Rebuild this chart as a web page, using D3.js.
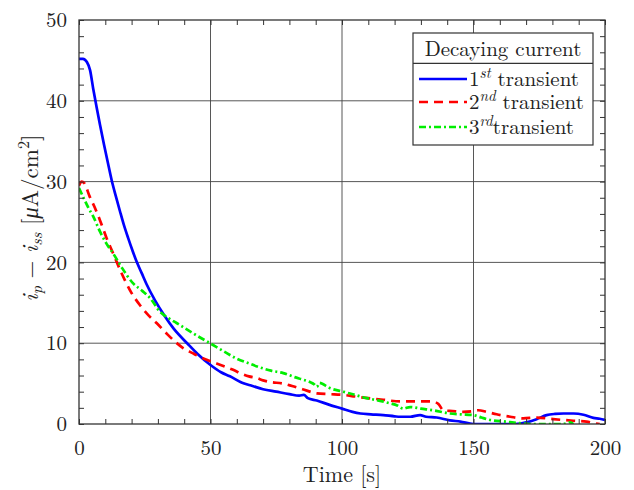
<!DOCTYPE html>
<html><head><meta charset="utf-8">
<script src="https://cdn.jsdelivr.net/npm/d3@7"></script>
<style>body{margin:0;background:#fff}svg{display:block}</style>
</head><body><svg id="c" width="634" height="490"></svg>
<script>
const FONT="'Latin Modern Roman','Liberation Serif',serif";
const xTicks=[0,50,100,150,200];
const yTicks=[0,10,20,30,40,50];
const legendTitle="Decaying current";
const seriesNames=[["1","st"," transient"],["2","nd"," transient"],["3","rd","transient"]];
const seriesColors=["#0000ff","#ff0000","#00ee00"];
const t1=[0,1.5,3,4.2,5.4,6.7,8,9.5,11,12.4,14,15.6,17,18.7,20.3,21.9,23.8,25.7,28.9,32.7,36,41.4,45,50,54,57.4,62,66,70,75,80,83.7,85.5,87,90.4,95,100,104,107,111,115.7,120,122,126,129.7,132,136,141,145,150,155,160,166,170,174,177.8,181,184.2,188,191.8,195.6,198,200];
const v1=[45.2,45.2,44.8,43.8,41.5,39.2,37,34.6,32.3,30.2,28.2,26.3,24.7,23.0,21.5,20.1,18.7,17.3,15.3,13.3,11.8,9.9,8.7,7.3,6.4,5.9,5.1,4.7,4.3,4.0,3.7,3.5,3.6,3.2,2.9,2.4,1.9,1.5,1.3,1.2,1.1,0.95,0.9,0.9,1.1,0.9,0.8,0.45,0.3,0,0,0,0,0.2,0.6,1.1,1.25,1.3,1.3,1.15,0.75,0.65,0.5];
const t2=[0,1,2,4,6,8,10.5,13,16,20,23.2,26,29.5,33.3,36.5,39.6,43,46,49,52.3,55.5,58.6,62,64.6,67.5,70,72.6,77.7,81,85,90.4,95,100.5,105,110,115.7,122,129.7,134,136.6,138.5,142,146,150,151.8,155,158.8,164,168.9,174,180.3,184,188,193,196.8,198];
const v2=[29.5,30,29.8,28.2,26.8,25.2,23,21.1,18.8,16.2,14.7,13.6,12.5,11.2,10.2,9.4,8.8,8.3,7.9,7.5,7.1,6.7,6.2,5.9,5.7,5.4,5.2,5.0,4.7,4.3,3.8,3.7,3.6,3.4,3.2,3.0,2.8,2.8,2.8,2.5,1.7,1.6,1.5,1.6,1.7,1.5,1.2,0.9,0.7,0.8,0.6,0.5,0.4,0.3,0.05,0];
const t3=[0,2,3.5,5.4,8,10.5,13,16,20.6,24,27,30.8,34,37.1,41,45,49.8,55,59.9,64.6,68.8,73,77.7,82,85,87.8,89.5,90.4,91.5,92.3,95,100.5,105,109.4,114,118.3,121,123.3,125.9,130,134.7,141,145,150,153,156.3,162,167.7,171.5,176,180,184,186.7,188];
const v3=[29.2,27.8,26.8,25.7,23.8,22.3,21.1,19.5,17.4,16.5,15.6,13.9,13.1,12.5,11.7,10.9,10.0,9.0,8.1,7.5,7.0,6.6,6.3,5.8,5.5,5.2,4.9,4.6,5.1,5.0,4.5,4.0,3.6,3.2,2.9,2.55,2.3,1.9,2.1,1.9,1.7,1.3,1.2,1.1,0.8,0.5,0.3,0.1,0,0,0,0,0.2,0];
const series=[[t1,v1],[t2,v2],[t3,v3]];
const dashes=[null,"9,6","7,3,2,3"];

const svg=d3.select("#c");
const L=79,R=605,T=20,B=424;
const x=d3.scaleLinear().domain([0,200]).range([L,R]);
const y=d3.scaleLinear().domain([0,50]).range([B,T]);

const g=svg.append("g");
g.selectAll(".gx").data(xTicks.slice(1,-1)).join("line").attr("x1",d=>x(d)).attr("x2",d=>x(d)).attr("y1",T).attr("y2",B).attr("stroke","#444").attr("stroke-width",0.9);
g.selectAll(".gy").data(yTicks.slice(1,-1)).join("line").attr("y1",d=>y(d)).attr("y2",d=>y(d)).attr("x1",L).attr("x2",R).attr("stroke","#444").attr("stroke-width",0.9);

svg.append("clipPath").attr("id","cp").append("rect").attr("x",L).attr("y",T-2).attr("width",R-L).attr("height",B-T+2);
const line=d3.line().x(d=>x(d[0])).y(d=>y(d[1])).curve(d3.curveMonotoneX);
series.forEach((s,i)=>{
  const pts=s[0].map((t,j)=>[t,s[1][j]]);
  svg.append("path").attr("clip-path","url(#cp)").attr("d",line(pts)).attr("fill","none")
    .attr("stroke",seriesColors[i]).attr("stroke-width",2.7).attr("stroke-dasharray",dashes[i]).attr("stroke-linejoin","round");
});

const mk=(axis,tr)=>svg.append("g").attr("transform",tr).call(axis);
const minorX=d3.range(0,201,10), minorY=d3.range(0,51,2);
function style(sel){sel.attr("font-family",FONT).attr("font-size",21);sel.select(".domain").remove();sel.selectAll("line").attr("stroke","#333").attr("stroke-width",1);sel.selectAll("text").attr("fill","#222");}
style(mk(d3.axisBottom(x).tickValues(minorX).tickFormat("").tickSizeInner(-5).tickSizeOuter(0),`translate(0,${B})`));
style(mk(d3.axisTop(x).tickValues(minorX).tickFormat("").tickSizeInner(-5).tickSizeOuter(0),`translate(0,${T})`));
style(mk(d3.axisLeft(y).tickValues(minorY).tickFormat("").tickSizeInner(-5).tickSizeOuter(0),`translate(${L},0)`));
style(mk(d3.axisRight(y).tickValues(minorY).tickFormat("").tickSizeInner(-5).tickSizeOuter(0),`translate(${R},0)`));
const xa=mk(d3.axisBottom(x).tickValues(xTicks).tickSize(0).tickPadding(16),`translate(0,${B})`);style(xa);
const ya=mk(d3.axisLeft(y).tickValues(yTicks).tickSize(0).tickPadding(12),`translate(${L},0)`);style(ya);
svg.append("rect").attr("x",L).attr("y",T).attr("width",R-L).attr("height",B-T).attr("fill","none").attr("stroke","#333").attr("stroke-width",1.3);

svg.append("text").attr("x",342).attr("y",482).attr("text-anchor","middle").attr("font-family",FONT).attr("font-size",22).attr("fill","#222").text("Time [s]");
const yl=svg.append("text").attr("transform","translate(38,218) rotate(-90)").attr("text-anchor","middle").attr("font-family",FONT).attr("font-size",23).attr("fill","#222");
yl.append("tspan").attr("font-style","italic").text("i");
yl.append("tspan").attr("font-style","italic").attr("dy",4).attr("font-size",16).text("p");
yl.append("tspan").attr("dy",-4).text(" − ");
yl.append("tspan").attr("font-style","italic").text("i");
yl.append("tspan").attr("font-style","italic").attr("dy",4).attr("font-size",16).text("ss");
yl.append("tspan").attr("dy",-4).text("  [");
yl.append("tspan").attr("font-style","italic").text("μ");
yl.append("tspan").text("A/cm");
yl.append("tspan").attr("dy",-9).attr("font-size",16).text("2");
yl.append("tspan").attr("dy",9).text("]");

const lg=svg.append("g");
const lx=413,ly=33,lw=180,lh=112;
lg.append("rect").attr("x",lx).attr("y",ly).attr("width",lw).attr("height",lh).attr("fill","#fff").attr("stroke","#333").attr("stroke-width",1.2);
lg.append("line").attr("x1",lx).attr("x2",lx+lw).attr("y1",63.3).attr("y2",63.3).attr("stroke","#333").attr("stroke-width",1.2);
lg.append("text").attr("x",lx+lw/2).attr("y",56).attr("text-anchor","middle").attr("font-family",FONT).attr("font-size",21).attr("fill","#222").text(legendTitle);
const rowsY=[79,102,127];
seriesNames.forEach((n,i)=>{
  lg.append("line").attr("x1",419).attr("x2",467).attr("y1",rowsY[i]).attr("y2",rowsY[i]).attr("stroke",seriesColors[i]).attr("stroke-width",2.7).attr("stroke-dasharray",dashes[i]);
  const tx=lg.append("text").attr("x",469).attr("y",rowsY[i]+7).attr("font-family",FONT).attr("font-size",21).attr("fill","#222");
  tx.append("tspan").text(n[0]);
  tx.append("tspan").attr("dy",-8).attr("font-size",15).attr("font-style","italic").text(n[1]);
  tx.append("tspan").attr("dy",8).text(n[2]);
});
</script></body></html>
